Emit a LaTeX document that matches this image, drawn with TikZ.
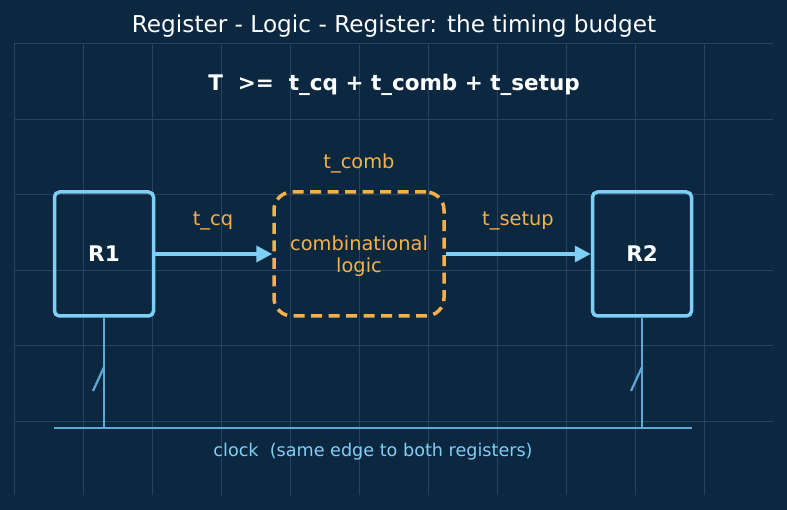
\documentclass[tikz,border=0pt]{standalone}
\usepackage{fontspec}
\setmainfont{DejaVu Sans}
\usetikzlibrary{arrows.meta}
\definecolor{bg}{HTML}{0B2840}
\definecolor{gridc}{HTML}{26445F}
\definecolor{regc}{HTML}{7FCFF5}
\definecolor{orc}{HTML}{F4B04A}
\definecolor{clkc}{HTML}{5DA9D6}
\definecolor{clktxt}{HTML}{7FCFF5}
\tikzset{
  gridline/.style={draw=gridc, line width=0.7pt},
  regbox/.style={draw=regc, line width=3.5pt, rounded corners=5pt, minimum width=99pt, minimum height=124pt, font=\fontsize{21.5}{25}\selectfont\bfseries, text=white},
  combbox/.style={draw=orc, line width=3.5pt, dash pattern=on 11pt off 6.5pt, rounded corners=18pt, minimum width=170pt, minimum height=124pt, text=orc},
  combtxt/.style={font=\fontsize{19.4}{22.5}\selectfont, text=orc, align=center},
  lbl/.style={font=\fontsize{19.4}{23}\selectfont, text=orc},
  flow/.style={draw=regc, line width=3.5pt, -{Triangle[length=16pt,width=16pt]}},
  clk/.style={draw=clkc, line width=2.2pt},
}
\begin{document}
\begin{tikzpicture}[x=1pt,y=-1pt]
\fill[bg] (0,0) rectangle (787,510);
\useasboundingbox (0,0) rectangle (787,510);
% grid
\foreach \gx in {14,83,152,221,290,359,428,497,566,635,704} {\draw[gridline] (\gx,43) -- (\gx,495);}
\foreach \gy in {43,119,194,270,345,421} {\draw[gridline] (14,\gy) -- (773,\gy);}
% title and equation
\node[text=white, font=\fontsize{23.2}{27}\selectfont] (title) at (394,26) {Register - Logic - Register: the timing budget};
\node[text=white, font=\fontsize{21.5}{25}\selectfont\bfseries] (eq) at (394,84.5) {T\ \ >=\ \ t\_cq + t\_comb + t\_setup};
% boxes
\node[regbox] (r1) at (104,254) {R1};
\node[regbox] (r2) at (642,254) {R2};
\node[combbox] (comb) at (359,254) {};
\node[combtxt] (combt) at (359,256) {combinational\\logic};
\node[lbl] (tcomb) at (359,163) {t\_comb};
% arrows
\draw[flow] (r1.east) -- (comb.west);
\draw[flow] (comb.east) -- (r2.west);
\node[lbl] (tcq) at (213,221) {t\_cq};
\node[lbl] (tsetup) at (518,221) {t\_setup};
% clock
\coordinate (cl) at (54,428);
\coordinate (cr) at (692,428);
\coordinate (c1) at (104,428);
\coordinate (c2) at (642,428);
\draw[clk] (cl) -- (cr);
\draw[clk] (r1.south) -- (c1);
\draw[clk] (r2.south) -- (c2);
\coordinate (k1a) at (93,391); \coordinate (k1b) at (104,367);
\coordinate (k2a) at (631,391); \coordinate (k2b) at (642,367);
\draw[clk] (k1a) -- (k1b);
\draw[clk] (k2a) -- (k2b);
\node[text=clktxt, font=\fontsize{17.6}{20}\selectfont] (clktext) at (373,451.5) {clock\ \ (same edge to both registers)};
\end{tikzpicture}
\end{document}
